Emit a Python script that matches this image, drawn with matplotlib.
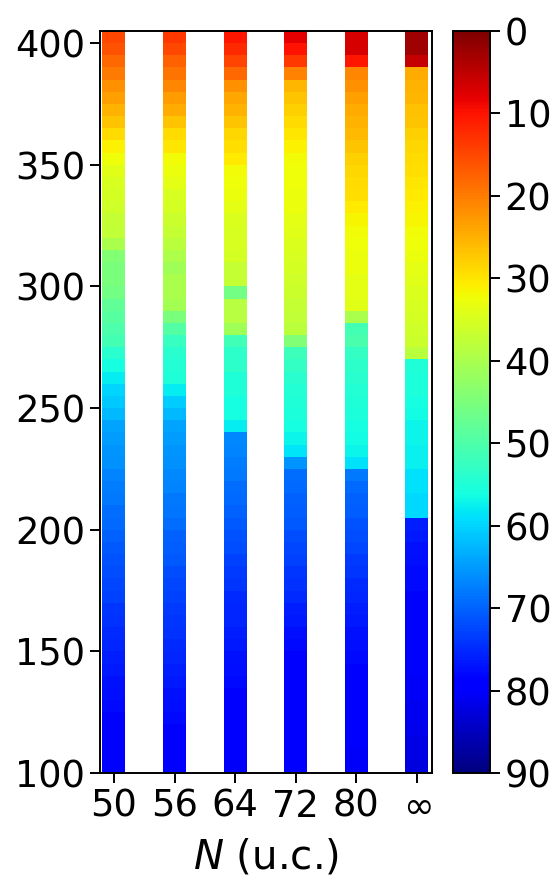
import numpy as np
import matplotlib
matplotlib.use('Agg')
import matplotlib.pyplot as plt
from matplotlib.colors import Normalize

# 열 라벨 (N, u.c.)
sizes = ['50', '56', '64', '72', '80', r'$\infty$']

# 온도 칸 (아래 경계, 5 간격)
temps = np.arange(100, 405, 5)

# 각 열 값 (위 400 -> 아래 100 순서)
col_50 = [15, 16, 18, 20, 22, 23.5, 25, 27, 29, 31, 32.5, 34, 35, 35.5, 36, 37,
          37.5, 40, 44, 45, 45, 46, 48, 49, 50, 51, 54, 56, 58, 60, 61, 62.5,
          64, 65, 65.5, 66, 67, 67.5, 68, 69, 69.5, 70, 71, 71.5, 72, 72.5, 73, 74,
          74.5, 75, 75.5, 76, 76.5, 77, 77.5, 78, 78.5, 79, 79, 79.5, 79.5]
col_56 = [13.5, 15, 17.5, 19, 21, 23, 24.5, 27, 29, 30, 32, 33, 33.5, 35, 35.5, 36.5,
          37, 38, 39.5, 41, 40, 40, 40.5, 45, 49.5, 52.5, 54, 54.5, 55, 58, 60.5, 62.5,
          64, 65, 65.5, 66, 66.5, 67, 68, 68.5, 69, 70, 70.5, 71, 72, 72.5, 73, 73.5,
          74, 74.5, 75, 75.5, 76, 76.5, 77, 77.5, 78, 78.5, 79, 79.5, 80]
col_64 = [10.5, 12, 14.5, 18, 22, 24, 25, 27, 28.5, 29.5, 30.5, 32, 32.5, 33, 33.5, 34.5,
          35, 35, 35.5, 37, 37, 46, 38.5, 38.5, 41, 51.5, 53.5, 53.5, 55, 55, 56, 56,
          58, 66.5, 67, 67.5, 68, 69, 69.5, 70, 71, 71.5, 72, 73, 73.5, 74, 75, 75.5,
          75.5, 76, 76.5, 77, 77.5, 78, 78.5, 79, 79, 79.5, 80, 80, 80.5]
col_72 = [8, 10, 13.5, 20.5, 25.5, 27, 28, 29, 30, 31, 32, 32.5, 32.5, 33, 33, 33.5,
          34, 34.5, 35, 35.5, 36, 36.5, 37, 37.5, 38, 44.5, 52, 53, 54, 54.5, 55, 55.5,
          56, 57, 58.5, 65.5, 69, 69.5, 70, 70.5, 71, 72, 72.5, 73, 74, 74.5, 75, 76,
          76.5, 77.5, 78, 79, 79.5, 80, 80, 80, 80, 80, 80, 80, 80]
col_80 = [7, 7, 10.5, 21, 22, 23.5, 24.5, 25, 26, 27, 28, 28.5, 29, 29.5, 30.5, 31.5,
          32, 32.5, 33, 33, 33.5, 33.5, 34, 40, 51, 50.5, 53, 53.5, 54, 54.5, 55, 55.5,
          56, 56.5, 57, 59, 68, 69.5, 70, 70.5, 71.5, 72, 72.5, 73.5, 74, 75, 75.5, 76,
          76.5, 77, 77.5, 78, 78.5, 79, 79.5, 80, 80, 80, 80, 80.5, 80.5]
col_inf = [2.5, 2.5, 5.5, 24.5, 25, 25.5, 26.5, 27, 28, 28.5, 29, 29.5, 30, 30.5, 31, 31.5,
           32, 32.5, 33, 33.5, 34, 34.5, 35, 35.5, 36, 36.5, 38, 55, 55.5, 55.5, 56, 56.5,
           57, 57, 57.5, 57.5, 59, 59, 59.5, 59.5, 76, 76.5, 77, 77.5, 78, 78, 78.5, 78.5,
           79, 79.5, 79.5, 80, 80, 80.5, 80.5, 81, 81, 81.5, 82, 82, 82.5]

columns = [col_50, col_56, col_64, col_72, col_80, col_inf]

fs = 26.5
fig = plt.figure(figsize=(5.54, 8.93), dpi=100)
ax = fig.add_axes([0.1805, 0.1344, 0.5993, 0.8309])
norm = Normalize(vmin=0, vmax=90)
cmap = plt.get_cmap('jet_r')

y_edges = np.append(temps, temps[-1] + 5)
half = 0.19
for i, col in enumerate(columns):
    vals = np.array(col[::-1]).reshape(-1, 1)
    mesh = ax.pcolormesh([i - half, i + half], y_edges, vals, cmap=cmap, norm=norm)

ax.set_xlim(-0.23, 5.25)
ax.set_ylim(100, 405)
ax.set_xticks(range(len(sizes)))
ax.set_xticklabels(sizes)
ax.set_yticks(range(100, 401, 50))
ax.tick_params(labelsize=fs, length=7, width=1.4)
for s in ax.spines.values():
    s.set_linewidth(1.4)
ax.set_xlabel(r'$N$ (u.c.)', fontsize=29, labelpad=9)

cax = fig.add_axes([0.8177, 0.1344, 0.0668, 0.8309])
cb = fig.colorbar(mesh, cax=cax, ticks=range(0, 91, 10))
cax.invert_yaxis()
cb.ax.tick_params(labelsize=fs, length=7, width=1.4)
cb.outline.set_linewidth(1.4)

fig.savefig('out.png', dpi=100)
